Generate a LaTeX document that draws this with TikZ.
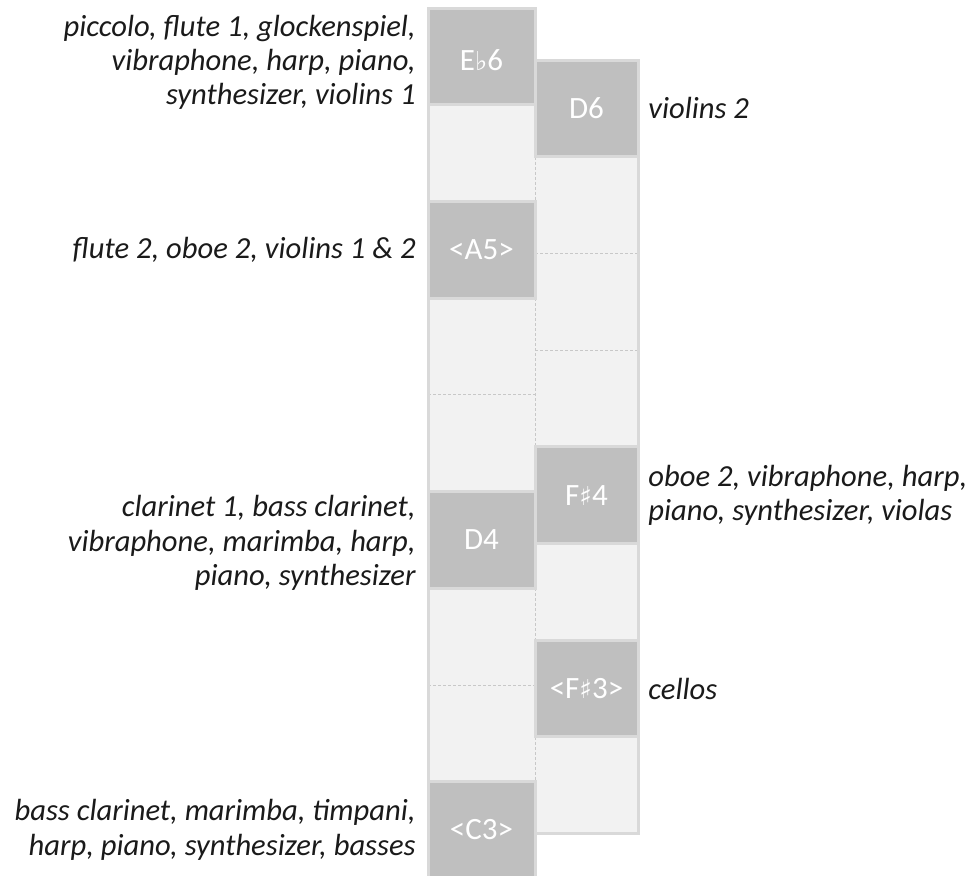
\documentclass[tikz,border=0pt]{standalone}
\usepackage{fontspec}
\setmainfont{Carlito}
\newfontfamily\musicfont{DejaVu Sans}
\usetikzlibrary{positioning}
\definecolor{colorpitch} {HTML}{BFBFBF}
\definecolor{colorempty} {HTML}{F2F2F2}
\definecolor{colorframe} {HTML}{D9D9D9}
\definecolor{colordash}  {HTML}{C8C8C8}
\definecolor{colortext}  {HTML}{1A1A1A}
\newcommand{\mflat}{{\musicfont\fontsize{13}{13}\selectfont ♭}}
\newcommand{\msharp}{{\musicfont\fontsize{13}{13}\selectfont ♯}}

\begin{document}
\begin{tikzpicture}[
    node distance = 0pt,
    font={\fontsize{15.5}{17}\selectfont},
    base/.style={minimum height=48.35pt,inner sep=0pt,outer sep=0pt},
    leftcell/.style={base,minimum width=53.5pt},
    rightcell/.style={base,minimum width=51.5pt},
    pitch/.style={fill=colorpitch,text=white},
    emptycell/.style={fill=colorempty},
    txt/.style={text=colortext,font={\fontsize{15.3}{17.2}\selectfont\itshape},inner sep=0pt},
    sep/.style={draw=colordash,line width=0.4pt,dash pattern=on 1.5pt off 1pt},
    columnedge/.style={draw=colorframe,line width=1.5pt},
]
    \useasboundingbox (0,0) rectangle (487pt,-438pt);

    % Left column
    \node[leftcell,pitch,text height=14pt] at (240.75pt,-28.2pt) (eb6) {E\mflat6};
    \node[leftcell,emptycell,below=of eb6]    (lone)   {};
    \node[leftcell,pitch,below=of lone]       (a5)     {<A5>};
    \node[leftcell,emptycell,below=of a5]     (ltwo)   {};
    \node[leftcell,emptycell,below=of ltwo]   (lthree) {};
    \node[leftcell,pitch,below=of lthree]     (d4)     {D4};
    \node[leftcell,emptycell,below=of d4]     (lfour)  {};
    \node[leftcell,emptycell,below=of lfour]  (lfive)  {};
    \node[leftcell,pitch,below=of lfive]      (c3)     {<C3>};

    % Right column
    \node[rightcell,pitch] at (293.25pt,-54.2pt) (d6) {D6};
    \node[rightcell,emptycell,below=of d6]     (rone)   {};
    \node[rightcell,emptycell,below=of rone]   (rtwo)   {};
    \node[rightcell,emptycell,below=of rtwo]   (rthree) {};
    \node[rightcell,pitch,below=of rthree]     (fs4)    {F\msharp4};
    \node[rightcell,emptycell,below=of fs4]    (rfour)  {};
    \node[rightcell,pitch,below=of rfour]      (fs3)    {<F\msharp3>};
    \node[rightcell,emptycell,below=of fs3]    (rfive)  {};

    % Dashed borders between empty cells
    \draw[sep] (ltwo.south west) -- (ltwo.south east);
    \draw[sep] (lfour.south west) -- (lfour.south east);
    \draw[sep] (rone.south west) -- (rone.south east);
    \draw[sep] (rtwo.south west) -- (rtwo.south east);
    \draw[sep] (d6.south west) -- (lone.south east);
    \draw[sep] (a5.south east) -- (fs4.north west);
    \draw[sep] (d4.south east) -- (fs3.north west);
    \draw[sep] (fs3.south west) -- (c3.north east);

    % Column edges
    \draw[columnedge] (eb6.north west) -- (c3.south west);
    \draw[columnedge] (d6.north east) -- (rfive.south east) -- (rfive.south west);
    \foreach \n in {eb6,a5,d4,c3,d6,fs4,fs3}
        \draw[columnedge] (\n.north west) rectangle (\n.south east);

    % Instruments
    \node[txt,align=right,left=6pt of eb6,yshift=-3pt] (eb6txt) {piccolo, flute 1, glockenspiel,\\vibraphone, harp, piano,\\synthesizer, violins 1};
    \node[txt,align=right,left=6pt of a5]  (a5txt) {flute 2, oboe 2, violins 1 \& 2};
    \node[txt,align=right,left=6pt of d4,yshift=-1.5pt] (d4txt) {clarinet 1, bass clarinet,\\vibraphone, marimba, harp,\\piano, synthesizer};
    \node[txt,align=right,left=6pt of c3]  (c3txt) {bass clarinet, marimba, timpani,\\harp, piano, synthesizer, basses};
    \node[txt,align=left,right=5pt of d6]  (d6txt) {violins 2};
    \node[txt,align=left,right=5pt of fs4] (fs4txt) {oboe 2, vibraphone, harp,\\piano, synthesizer, violas};
    \node[txt,align=left,right=5pt of fs3] (fs3txt) {cellos};

\end{tikzpicture}
\end{document}
